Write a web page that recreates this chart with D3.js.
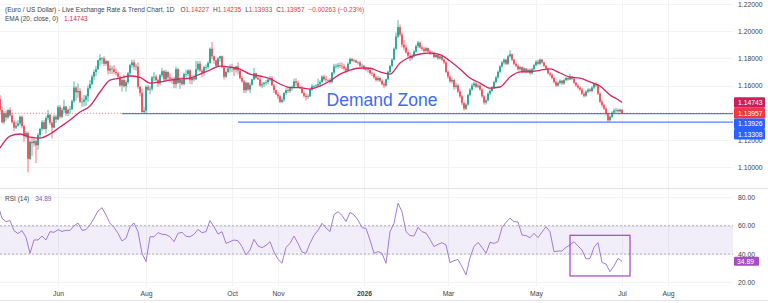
<!DOCTYPE html>
<html>
<head>
<meta charset="utf-8">
<script src="https://cdn.jsdelivr.net/npm/d3@7"></script>
<style>
  html, body { margin: 0; padding: 0; background: #fff; }
  svg { display: block; font-family: "Liberation Sans", Arial, sans-serif; }
</style>
</head>
<body>
<svg id="chart" width="768" height="303"></svg>
<script>
// EUR/USD daily candles, 21 Apr 2025 -> 1 Jul 2026 (weekdays only)
const FIRST_DAY = "2025-04-21";
const FIRST_OPEN = 1.1560;
const LAST_OPEN = 1.14227;   // the last bar gapped slightly off the previous close

const closes = [
  1.1500,1.1420,1.1330,1.1395,1.1365,1.1420,1.1380,1.1330,1.1290,1.1305,
  1.1320,1.1370,1.1300,1.1225,1.1250,1.1060,1.1185,1.1175,1.1190,1.1160,
  1.1235,1.1280,1.1330,1.1280,1.1360,1.1385,1.1325,1.1290,1.1370,1.1350,
  1.1440,1.1370,1.1420,1.1445,1.1395,1.1420,1.1425,1.1485,1.1585,1.1550,
  1.1560,1.1480,1.1480,1.1495,1.1520,1.1580,1.1610,1.1665,1.1700,1.1720,
  1.1785,1.1800,1.1800,1.1760,1.1780,1.1710,1.1725,1.1720,1.1700,1.1690,
  1.1665,1.1600,1.1640,1.1595,1.1625,1.1690,1.1750,1.1770,1.1740,1.1740,
  1.1590,1.1545,1.1405,1.1415,1.1590,1.1570,1.1575,1.1660,1.1665,1.1640,
  1.1615,1.1675,1.1705,1.1645,1.1700,1.1660,1.1650,1.1650,1.1610,1.1720,
  1.1620,1.1640,1.1610,1.1685,1.1685,1.1710,1.1640,1.1660,1.1645,1.1720,
  1.1760,1.1710,1.1695,1.1735,1.1735,1.1765,1.1870,1.1815,1.1785,1.1745,
  1.1800,1.1815,1.1735,1.1665,1.1700,1.1725,1.1735,1.1730,1.1715,1.1740,
  1.1710,1.1655,1.1630,1.1565,1.1620,1.1570,1.1605,1.1645,1.1690,1.1655,
  1.1645,1.1600,1.1610,1.1620,1.1625,1.1645,1.1655,1.1600,1.1565,1.1535,
  1.1520,1.1480,1.1495,1.1545,1.1565,1.1560,1.1580,1.1590,1.1630,1.1620,
  1.1590,1.1580,1.1545,1.1525,1.1515,1.1520,1.1570,1.1595,1.1595,1.1600,
  1.1610,1.1625,1.1665,1.1645,1.1640,1.1640,1.1625,1.1695,1.1740,1.1740,
  1.1750,1.1745,1.1740,1.1725,1.1710,1.1760,1.1795,1.1780,1.1785,1.1770,
  1.1770,1.1745,1.1745,1.1720,1.1720,1.1715,1.1690,1.1685,1.1660,1.1640,
  1.1655,1.1635,1.1610,1.1600,1.1645,1.1700,1.1745,1.1790,1.1870,1.1960,
  1.2030,1.1975,1.1900,1.1880,1.1845,1.1820,1.1800,1.1815,1.1850,1.1890,
  1.1915,1.1880,1.1870,1.1855,1.1875,1.1850,1.1835,1.1840,1.1810,1.1825,
  1.1800,1.1815,1.1790,1.1770,1.1700,1.1665,1.1630,1.1640,1.1590,1.1600,
  1.1555,1.1520,1.1470,1.1430,1.1460,1.1530,1.1570,1.1600,1.1615,1.1590,
  1.1600,1.1570,1.1520,1.1475,1.1490,1.1540,1.1560,1.1585,1.1625,1.1660,
  1.1700,1.1740,1.1770,1.1790,1.1760,1.1815,1.1830,1.1790,1.1760,1.1745,
  1.1720,1.1735,1.1700,1.1725,1.1700,1.1715,1.1690,1.1720,1.1750,1.1775,
  1.1760,1.1790,1.1770,1.1745,1.1725,1.1690,1.1680,1.1655,1.1625,1.1600,
  1.1620,1.1635,1.1615,1.1640,1.1655,1.1645,1.1665,1.1650,1.1620,1.1600,
  1.1585,1.1570,1.1540,1.1525,1.1555,1.1570,1.1560,1.1585,1.1610,1.1600,
  1.1540,1.1480,1.1455,1.1430,1.1390,1.1345,1.1370,1.1400,1.1415,1.1420,
  1.1410,1.14220,1.13957
];

const highs = [
  1.1575,1.1530,1.1445,1.1410,1.1415,1.1425,1.1440,1.1395,1.1345,1.1335,
  1.1345,1.1380,1.1380,1.1310,1.1265,1.1260,1.1195,1.1225,1.1210,1.1200,
  1.1250,1.1290,1.1345,1.1345,1.1375,1.1420,1.1390,1.1335,1.1385,1.1385,
  1.1455,1.1455,1.1435,1.1495,1.1450,1.1430,1.1450,1.1495,1.1630,1.1595,
  1.1615,1.1580,1.1510,1.1530,1.1535,1.1600,1.1640,1.1680,1.1715,1.1745,
  1.1790,1.1830,1.1810,1.1815,1.1790,1.1785,1.1750,1.1745,1.1750,1.1720,
  1.1700,1.1670,1.1660,1.1680,1.1640,1.1700,1.1760,1.1790,1.1790,1.1760,
  1.1770,1.1595,1.1575,1.1445,1.1600,1.1605,1.1595,1.1670,1.1700,1.1680,
  1.1650,1.1685,1.1730,1.1715,1.1715,1.1705,1.1690,1.1660,1.1665,1.1740,
  1.1730,1.1660,1.1665,1.1695,1.1715,1.1720,1.1720,1.1675,1.1680,1.1780,
  1.1780,1.1780,1.1720,1.1745,1.1755,1.1780,1.1880,1.1920,1.1820,1.1790,
  1.1810,1.1820,1.1820,1.1740,1.1710,1.1740,1.1755,1.1760,1.1735,1.1745,
  1.1770,1.1715,1.1670,1.1640,1.1630,1.1625,1.1620,1.1650,1.1730,1.1695,
  1.1670,1.1665,1.1625,1.1625,1.1640,1.1645,1.1670,1.1670,1.1610,1.1570,
  1.1550,1.1530,1.1510,1.1550,1.1580,1.1590,1.1595,1.1600,1.1650,1.1655,
  1.1635,1.1600,1.1595,1.1560,1.1540,1.1535,1.1585,1.1610,1.1605,1.1610,
  1.1650,1.1640,1.1675,1.1680,1.1670,1.1650,1.1655,1.1700,1.1760,1.1760,
  1.1765,1.1770,1.1770,1.1760,1.1735,1.1770,1.1805,1.1805,1.1795,1.1790,
  1.1780,1.1780,1.1760,1.1750,1.1740,1.1735,1.1730,1.1700,1.1695,1.1670,
  1.1670,1.1665,1.1645,1.1625,1.1650,1.1710,1.1750,1.1800,1.1880,1.1990,
  1.2080,1.2050,1.1990,1.1935,1.1900,1.1865,1.1840,1.1830,1.1860,1.1900,
  1.1930,1.1925,1.1895,1.1885,1.1885,1.1880,1.1860,1.1855,1.1850,1.1835,
  1.1835,1.1825,1.1825,1.1800,1.1780,1.1710,1.1675,1.1660,1.1650,1.1620,
  1.1615,1.1570,1.1530,1.1480,1.1470,1.1540,1.1580,1.1615,1.1630,1.1625,
  1.1615,1.1610,1.1580,1.1530,1.1500,1.1550,1.1575,1.1595,1.1635,1.1670,
  1.1710,1.1750,1.1780,1.1800,1.1795,1.1825,1.1860,1.1835,1.1795,1.1770,
  1.1755,1.1745,1.1740,1.1735,1.1730,1.1725,1.1725,1.1730,1.1760,1.1785,
  1.1790,1.1800,1.1795,1.1775,1.1750,1.1730,1.1700,1.1690,1.1665,1.1635,
  1.1630,1.1645,1.1640,1.1650,1.1665,1.1665,1.1685,1.1670,1.1660,1.1625,
  1.1610,1.1595,1.1580,1.1550,1.1565,1.1580,1.1580,1.1595,1.1620,1.1625,
  1.1610,1.1550,1.1495,1.1465,1.1440,1.1400,1.1380,1.1410,1.1430,1.1435,
  1.1430,1.1430,1.14235
];

const lows = [
  1.1480,1.1405,1.1320,1.1315,1.1340,1.1355,1.1370,1.1320,1.1265,1.1280,
  1.1295,1.1305,1.1285,1.1185,1.1210,1.0960,1.1050,1.1080,1.1150,1.1030,
  1.1125,1.1215,1.1265,1.1275,1.1245,1.1345,1.1310,1.1210,1.1285,1.1325,
  1.1345,1.1355,1.1360,1.1400,1.1375,1.1375,1.1395,1.1420,1.1470,1.1490,
  1.1510,1.1470,1.1445,1.1445,1.1450,1.1480,1.1570,1.1605,1.1640,1.1670,
  1.1715,1.1745,1.1760,1.1745,1.1745,1.1680,1.1685,1.1685,1.1685,1.1675,
  1.1655,1.1590,1.1555,1.1585,1.1555,1.1610,1.1670,1.1730,1.1715,1.1710,
  1.1575,1.1520,1.1400,1.1392,1.1395,1.1560,1.1535,1.1560,1.1630,1.1630,
  1.1590,1.1600,1.1660,1.1630,1.1630,1.1640,1.1625,1.1615,1.1580,1.1580,
  1.1610,1.1575,1.1600,1.1600,1.1660,1.1670,1.1610,1.1610,1.1630,1.1640,
  1.1705,1.1700,1.1660,1.1670,1.1710,1.1720,1.1760,1.1795,1.1760,1.1730,
  1.1740,1.1775,1.1725,1.1645,1.1655,1.1690,1.1695,1.1700,1.1670,1.1695,
  1.1680,1.1645,1.1620,1.1545,1.1545,1.1560,1.1545,1.1600,1.1640,1.1650,
  1.1640,1.1590,1.1580,1.1590,1.1600,1.1610,1.1630,1.1595,1.1545,1.1530,
  1.1500,1.1470,1.1470,1.1480,1.1530,1.1545,1.1545,1.1560,1.1580,1.1595,
  1.1585,1.1575,1.1540,1.1510,1.1490,1.1500,1.1515,1.1560,1.1580,1.1590,
  1.1590,1.1590,1.1620,1.1635,1.1620,1.1630,1.1615,1.1615,1.1680,1.1725,
  1.1725,1.1730,1.1720,1.1710,1.1690,1.1705,1.1755,1.1775,1.1770,1.1765,
  1.1755,1.1735,1.1735,1.1715,1.1705,1.1695,1.1680,1.1670,1.1650,1.1630,
  1.1630,1.1625,1.1600,1.1580,1.1590,1.1640,1.1690,1.1735,1.1785,1.1860,
  1.1950,1.1960,1.1880,1.1860,1.1835,1.1800,1.1780,1.1790,1.1805,1.1840,
  1.1875,1.1870,1.1855,1.1840,1.1845,1.1840,1.1825,1.1825,1.1800,1.1800,
  1.1790,1.1790,1.1780,1.1760,1.1690,1.1650,1.1620,1.1615,1.1570,1.1575,
  1.1545,1.1505,1.1455,1.1415,1.1420,1.1450,1.1520,1.1560,1.1590,1.1580,
  1.1580,1.1560,1.1510,1.1460,1.1460,1.1485,1.1530,1.1550,1.1575,1.1615,
  1.1650,1.1690,1.1730,1.1755,1.1750,1.1750,1.1805,1.1780,1.1750,1.1735,
  1.1710,1.1710,1.1690,1.1695,1.1690,1.1690,1.1680,1.1680,1.1710,1.1740,
  1.1750,1.1750,1.1760,1.1735,1.1715,1.1680,1.1665,1.1645,1.1615,1.1590,
  1.1590,1.1610,1.1605,1.1605,1.1630,1.1635,1.1640,1.1640,1.1610,1.1590,
  1.1575,1.1560,1.1530,1.1510,1.1515,1.1545,1.1550,1.1550,1.1575,1.1590,
  1.1530,1.1470,1.1440,1.1420,1.1380,1.13308,1.1335,1.1360,1.1395,1.1400,
  1.1400,1.1400,1.13933
];

// EMA(20) every 5th candle, starting at candle 1
const EMA_START = 1, EMA_STEP = 5;
const emaVals = [
  1.1140,1.1228,1.1243,1.1220,1.1213,1.1243,1.1294,1.1346,1.1405,1.1449,
  1.1552,1.1640,1.1655,1.1670,1.1660,1.1618,1.1626,1.1640,1.1648,1.1655,
  1.1684,1.1714,1.1743,1.1736,1.1721,1.1684,1.1670,1.1650,1.1611,1.1585,
  1.1584,1.1574,1.1596,1.1633,1.1684,1.1714,1.1729,1.1727,1.1700,1.1684,
  1.1766,1.1810,1.1832,1.1838,1.1828,1.1780,1.1721,1.1655,1.1618,1.1581,
  1.1589,1.1662,1.1700,1.1702,1.1712,1.1722,1.1692,1.1662,1.1655,1.1626,
  1.1596,1.1530,1.1486
];
const LAST_EMA = 1.14743;

// RSI(14) every 2nd candle
const RSI_STEP = 2;
const rsiVals = [
  74.6,65.2,62.9,63.6,56.5,54.4,56.5,51.8,40.5,49.9,
  49.9,52.7,49.9,55.8,55.3,57.2,56.0,56.7,56.7,59.8,
  61.9,56.7,57.2,60.5,65.2,70.4,72.7,67.6,61.7,58.8,
  54.6,49.2,51.1,59.3,61.9,55.8,40.5,34.6,52.2,52.2,
  55.1,53.9,53.7,52.2,48.7,54.6,55.3,52.5,52.2,53.9,
  57.4,55.1,55.8,63.6,59.3,54.1,55.8,47.5,48.7,49.9,
  49.4,45.2,39.3,42.8,50.4,45.7,44.5,46.1,48.7,41.4,
  36.2,33.5,44.7,47.5,52.7,47.5,41.4,40.5,47.5,53.2,
  56.7,61.7,58.4,55.8,67.8,69.9,67.3,62.9,69.4,67.6,
  64.0,58.6,58.1,49.9,40.5,41.7,40.5,33.4,55.8,61.7,
  75.8,69.9,55.8,53.0,52.7,58.8,55.8,54.8,50.4,45.2,
  46.8,48.0,46.4,33.9,35.3,36.2,31.0,25.2,37.4,45.2,
  48.2,44.7,40.5,48.2,47.5,48.7,58.6,62.4,65.2,62.9,
  62.6,53.4,53.0,51.5,54.6,51.5,55.5,59.3,55.8,41.6,
  42.1,42.1,44.7,46.4,48.7,45.7,42.8,36.5,36.9,44.7,
  48.0,34.1,32.9,27.5,31.5,36.9,34.89
];

const priceTicks = [1.10, 1.12, 1.14, 1.16, 1.18, 1.20, 1.22];
const rsiTicks = [20, 40, 60, 80];
const monthTicks = [
  ["2025-06-01", "Jun"], ["2025-08-01", "Aug"], ["2025-10-01", "Oct"],
  ["2025-11-01", "Nov"], ["2026-01-01", "2026"], ["2026-03-01", "Mar"],
  ["2026-05-01", "May"], ["2026-07-01", "Jul"], ["2026-08-01", "Aug"]
];
const levels = [
  { price: 1.13926, from: "2025-07-16" },
  { price: 1.13308, from: "2025-10-06" }
];
const rsiBox = { from: "2026-05-26", to: "2026-07-07", top: 53.2, bottom: 24.5 };
const zoneLabel = { text: "Demand Zone", at: "2026-01-14", price: 1.1446 };

const UP = "#089981", DOWN = "#f23645", EMA_C = "#d02860", RSI_C = "#a37ad6", BLUE = "#2962ff";

// ---------------------------------------------------------------------------
const svg = d3.select("#chart");
const PLOT_R = 733;
const n = closes.length;

const days = [];
for (let d = new Date(FIRST_DAY + "T00:00:00Z"); days.length < n + 40; d.setUTCDate(d.getUTCDate() + 1)) {
  const wd = d.getUTCDay();
  if (wd !== 0 && wd !== 6) days.push(new Date(d));
}
const dayIndex = (s) => {
  const t = new Date(s + "T00:00:00Z");
  return days.findIndex((v) => v >= t);
};

const x = d3.scaleLinear().domain([0, n - 1]).range([-2, 622]);
const y = d3.scaleLinear().domain([1.10, 1.22]).range([167, 4]);
const yr = d3.scaleLinear().domain([20, 80]).range([282.3, 197.4]);

const candles = closes.map((c, i) => ({
  i, o: i === 0 ? FIRST_OPEN : i === n - 1 ? LAST_OPEN : closes[i - 1], h: highs[i], l: lows[i], c
}));

const defs = svg.append("defs");
defs.append("clipPath").attr("id", "clipP").append("rect")
  .attr("x", 0).attr("y", 0).attr("width", PLOT_R).attr("height", 188);
defs.append("clipPath").attr("id", "clipR").append("rect")
  .attr("x", 0).attr("y", 189).attr("width", PLOT_R).attr("height", 97);

// grid
const grid = svg.append("g").attr("stroke", "#f2f3f7").attr("stroke-width", 1);
grid.selectAll("line.h").data(priceTicks).join("line")
  .attr("x1", 0).attr("x2", PLOT_R)
  .attr("y1", (d) => Math.round(y(d)) + 0.5).attr("y2", (d) => Math.round(y(d)) + 0.5);
grid.selectAll("line.r").data(rsiTicks).join("line")
  .attr("x1", 0).attr("x2", PLOT_R)
  .attr("y1", (d) => Math.round(yr(d)) + 0.5).attr("y2", (d) => Math.round(yr(d)) + 0.5);
grid.selectAll("line.v").data(monthTicks).join("line")
  .attr("x1", (d) => Math.round(x(dayIndex(d[0]))) + 0.5)
  .attr("x2", (d) => Math.round(x(dayIndex(d[0]))) + 0.5)
  .attr("y1", 0).attr("y2", 286);

// pane separators
svg.append("line").attr("x1", 0).attr("x2", 768).attr("y1", 188.5).attr("y2", 188.5)
  .attr("stroke", "#e0e3eb");
svg.append("line").attr("x1", 0).attr("x2", 768).attr("y1", 300.5).attr("y2", 300.5)
  .attr("stroke", "#e0e3eb");

// ---------------- price pane
const gp = svg.append("g").attr("clip-path", "url(#clipP)");

// last price dotted line
gp.append("line")
  .attr("x1", 0).attr("x2", PLOT_R)
  .attr("y1", y(closes[n - 1])).attr("y2", y(closes[n - 1]))
  .attr("stroke", DOWN).attr("stroke-opacity", 0.55).attr("stroke-dasharray", "1,2");

// demand levels
gp.selectAll("line.level").data(levels).join("line")
  .attr("class", "level")
  .attr("x1", (d) => x(dayIndex(d.from))).attr("x2", PLOT_R)
  .attr("y1", (d) => y(d.price)).attr("y2", (d) => y(d.price))
  .attr("stroke", BLUE).attr("stroke-opacity", 0.8).attr("stroke-width", 1.3);

// candles
const gc = gp.append("g");
gc.selectAll("line.wick").data(candles).join("line")
  .attr("x1", (d) => x(d.i)).attr("x2", (d) => x(d.i))
  .attr("y1", (d) => y(d.h)).attr("y2", (d) => y(d.l))
  .attr("stroke", (d) => (d.c >= d.o ? UP : DOWN)).attr("stroke-width", 0.7);
gc.selectAll("rect.body").data(candles).join("rect")
  .attr("x", (d) => x(d.i) - 0.75).attr("width", 1.5)
  .attr("y", (d) => y(Math.max(d.o, d.c)))
  .attr("height", (d) => Math.max(0.6, Math.abs(y(d.o) - y(d.c))))
  .attr("fill", (d) => (d.c >= d.o ? UP : DOWN));

// EMA
const emaPts = emaVals.map((v, k) => [EMA_START + k * EMA_STEP, v]).concat([[n - 1, LAST_EMA]]);
gp.append("path").datum(emaPts)
  .attr("fill", "none").attr("stroke", EMA_C).attr("stroke-width", 1.3)
  .attr("d", d3.line().x((d) => x(d[0])).y((d) => y(d[1])).curve(d3.curveMonotoneX));

// zone label
svg.append("text")
  .attr("x", x(dayIndex(zoneLabel.at))).attr("y", y(zoneLabel.price))
  .attr("text-anchor", "middle").attr("font-size", 17.5).attr("fill", "#3d6cf0")
  .text(zoneLabel.text);

// ---------------- RSI pane
const gr = svg.append("g").attr("clip-path", "url(#clipR)");
gr.append("rect")
  .attr("x", 0).attr("width", PLOT_R)
  .attr("y", yr(60)).attr("height", yr(40) - yr(60))
  .attr("fill", "#7e57c2").attr("fill-opacity", 0.1);
gr.selectAll("line.band").data([60, 40]).join("line")
  .attr("x1", 0).attr("x2", PLOT_R)
  .attr("y1", (d) => yr(d)).attr("y2", (d) => yr(d))
  .attr("stroke", "#9598a1").attr("stroke-opacity", 0.7).attr("stroke-dasharray", "2,2");
gr.append("path").datum(rsiVals)
  .attr("fill", "none").attr("stroke", RSI_C).attr("stroke-width", 1)
  .attr("d", d3.line().x((d, k) => x(k * RSI_STEP)).y((d) => yr(d)));
gr.append("rect")
  .attr("x", x(dayIndex(rsiBox.from))).attr("y", yr(rsiBox.top))
  .attr("width", x(dayIndex(rsiBox.to)) - x(dayIndex(rsiBox.from)))
  .attr("height", yr(rsiBox.bottom) - yr(rsiBox.top))
  .attr("fill", "none").attr("stroke", "#ad4fc7").attr("stroke-width", 1.3);

// ---------------- axes
const axisFont = (g) => g.attr("font-family", "Liberation Sans, Arial, sans-serif")
  .attr("font-size", 6.8).call((s) => s.select(".domain").remove())
  .call((s) => s.selectAll("text").attr("fill", "#3b3f4a"));

svg.append("g").attr("transform", "translate(734,0)")
  .call(d3.axisRight(y).tickValues(priceTicks).tickFormat(d3.format(".5f")).tickSize(0).tickPadding(4))
  .call(axisFont);
svg.append("g").attr("transform", "translate(734,0)")
  .call(d3.axisRight(yr).tickValues(rsiTicks).tickFormat(d3.format(".2f")).tickSize(0).tickPadding(4))
  .call(axisFont);
const xa = svg.append("g").attr("transform", "translate(0,289)")
  .call(d3.axisBottom(x).tickValues(monthTicks.map((m) => dayIndex(m[0])))
    .tickFormat((d, k) => monthTicks[k][1]).tickSize(0).tickPadding(2))
  .call(axisFont);
xa.selectAll("text").attr("font-weight", (d, k) => (monthTicks[k][1] === "2026" ? "bold" : null));

// price badges, stacked so they don't overlap
const badges = [
  { v: LAST_EMA, fill: "#c8205c" },
  { v: closes[n - 1], fill: DOWN },
  { v: levels[0].price, fill: BLUE },
  { v: levels[1].price, fill: BLUE }
];
const BH = 10.5;
let prevBottom = -Infinity;
badges.forEach((b) => {
  b.cy = Math.max(y(b.v), prevBottom + BH / 2);
  prevBottom = b.cy + BH / 2;
});
const gb = svg.append("g");
gb.selectAll("rect").data(badges).join("rect")
  .attr("x", 734).attr("width", 31).attr("y", (d) => d.cy - BH / 2).attr("height", BH)
  .attr("rx", 1).attr("fill", (d) => d.fill);
gb.selectAll("text").data(badges).join("text")
  .attr("x", 738).attr("y", (d) => d.cy + 2.4)
  .attr("font-size", 6.8).attr("fill", "#fff")
  .text((d) => d3.format(".5f")(d.v));

const rsiLast = rsiVals[rsiVals.length - 1];
svg.append("rect").attr("x", 734).attr("width", 25).attr("y", yr(rsiLast) - 4.5).attr("height", 9)
  .attr("rx", 1).attr("fill", "#a64dc6");
svg.append("text").attr("x", 737).attr("y", yr(rsiLast) + 2.4)
  .attr("font-size", 6.8).attr("fill", "#fff").text(d3.format(".2f")(rsiLast));

// ---------------- legends
const last = candles[n - 1];
const chg = last.c - closes[n - 2];
const head = svg.append("text").attr("x", 5).attr("y", 11.5).attr("font-size", 6.5).attr("fill", "#3b3f4a");
head.append("tspan").text("(Euro / US Dollar) - Live Exchange Rate & Trend Chart, 1D");
[["O", last.o], ["H", last.h], ["L", last.l], ["C", last.c]].forEach(([k, v], j) => {
  head.append("tspan").attr("dx", j ? 4 : 6).text(k);
  head.append("tspan").attr("fill", DOWN).text(d3.format(".5f")(v));
});
head.append("tspan").attr("dx", 4).attr("fill", DOWN)
  .text(`${d3.format(".5f")(chg)} (${d3.format(".2%")(chg / closes[n - 2])})`);

const emaLeg = svg.append("text").attr("x", 5).attr("y", 20.5).attr("font-size", 6.5).attr("fill", "#3b3f4a");
emaLeg.append("tspan").text("EMA (20, close, 0)");
emaLeg.append("tspan").attr("dx", 6).attr("fill", EMA_C).text(d3.format(".5f")(LAST_EMA));

const rsiLeg = svg.append("text").attr("x", 5).attr("y", 200.5).attr("font-size", 6.5).attr("fill", "#3b3f4a");
rsiLeg.append("tspan").text("RSI (14)");
rsiLeg.append("tspan").attr("dx", 6).attr("fill", "#7e57c2").text(d3.format(".2f")(rsiLast));
</script>
</body>
</html>
